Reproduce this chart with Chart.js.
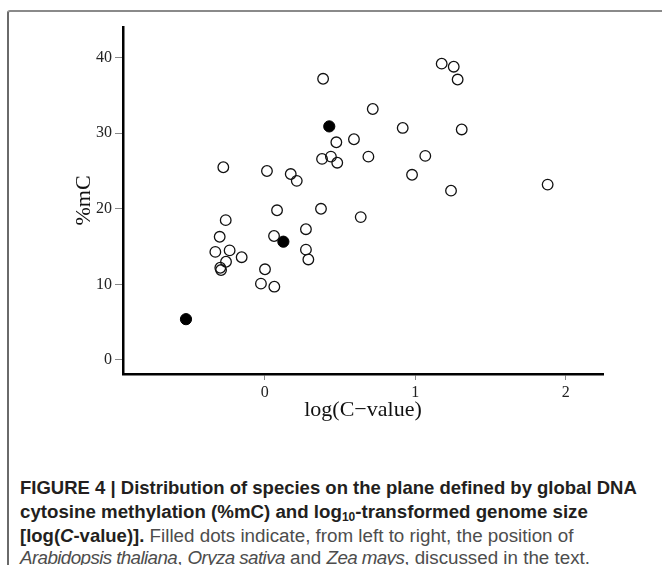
<!DOCTYPE html>
<html><head><meta charset="utf-8">
<script src="https://cdn.jsdelivr.net/npm/chart.js@4/dist/chart.umd.min.js"></script>
<style>
html,body{margin:0;padding:0;background:#fff;}
body{width:662px;height:565px;position:relative;overflow:hidden;}
#frame{position:absolute;left:7px;top:10px;width:700px;height:600px;border-top:2px solid #8a8a8a;border-left:2px solid #6a6a6a;border-top-left-radius:3px;}
#wrap{position:absolute;left:0;top:0;width:662px;height:460px;}
.cap{position:absolute;left:20px;font-family:"Liberation Sans",Arial,sans-serif;font-size:18.8px;line-height:24px;white-space:nowrap;color:#231f20;}
.cap b{font-weight:bold;font-size:18.5px;}
.cap b.l2{font-size:18.7px;}
.n{color:#4d4d4d;}
.n i{letter-spacing:-0.6px;}
sub{font-size:12px;vertical-align:-3px;line-height:0;}
</style></head><body>
<div id="frame"></div>
<div id="wrap"><canvas id="c" width="662" height="460"></canvas></div>
<div class="cap" style="top:476px"><b>FIGURE 4 | Distribution of species on the plane defined by global DNA</b></div>
<div class="cap" style="top:500px"><b class="l2">cytosine methylation (%mC) and log<sub>10</sub>-transformed genome size</b></div>
<div class="cap" style="top:524px"><b>[log(<i>C</i>-value)].</b><span class="n"> Filled dots indicate, from left to right, the position of</span></div>
<div class="cap n" style="top:546px"><i>Arabidopsis thaliana</i>, <i>Oryza sativa</i> and <i>Zea mays</i>, discussed in the text.</div>
<script>
// Open circles: other species
const openX = [0.388, 0.476, 0.593, 0.381, 0.440, 0.482, -0.275, 0.015, 0.173, 0.213,
  0.082, 0.374, -0.259, 1.176, 1.256, 1.282, 0.718, 0.917, 1.309, 0.689,
  1.067, 0.979, 1.238, 1.880, 0.638, -0.299, 0.062, 0.274, -0.328, -0.233,
  -0.153, -0.257, -0.295, -0.290, 0.274, 0.290, 0.002, -0.025, 0.064];
const openY = [37.2, 28.8, 29.2, 26.6, 26.9, 26.1, 25.5, 25.0, 24.6, 23.7,
  19.8, 20.0, 18.5, 39.2, 38.8, 37.1, 33.2, 30.7, 30.5, 26.9,
  27.0, 24.5, 22.4, 23.2, 18.9, 16.3, 16.4, 17.3, 14.3, 14.5,
  13.6, 13.0, 12.2, 11.9, 14.6, 13.3, 12.0, 10.1, 9.7];
// Filled dots: Arabidopsis thaliana, Oryza sativa, Zea mays
const filledX = [-0.523, 0.124, 0.429];
const filledY = [5.4, 15.65, 30.9];
const xTicks = [0, 1, 2];
const yTicks = [0, 10, 20, 30, 40];
const xTitle = 'log(C\u2212value)';
const yTitle = '%mC';

const toPts = (xs, ys) => xs.map((x, i) => ({x: x, y: ys[i]}));
const serif = "'Liberation Serif','Times New Roman',serif";

new Chart(document.getElementById('c'), {
  type: 'scatter',
  data: {
    datasets: [
      {data: toPts(openX, openY), pointRadius: 5.3, pointHoverRadius: 5.3, borderWidth: 1.3,
       borderColor: '#111', backgroundColor: 'rgba(0,0,0,0)'},
      {data: toPts(filledX, filledY), pointRadius: 5.6, pointHoverRadius: 5.6, borderWidth: 1,
       borderColor: '#000', backgroundColor: '#000'}
    ]
  },
  options: {
    responsive: false,
    devicePixelRatio: 1,
    animation: false,
    layout: {padding: {left: 0, right: 59, top: 27, bottom: 0}},
    plugins: {legend: {display: false}, tooltip: {enabled: false}},
    scales: {
      x: {
        type: 'linear', min: -0.9415, max: 2.2478,
        afterBuildTicks: s => { s.ticks = xTicks.map(v => ({value: v})); },
        afterFit: s => { s.height = 86; },
        grid: {display: true, drawOnChartArea: false, drawTicks: true, tickLength: 6, color: '#888', lineWidth: 1},
        border: {display: true, color: '#000', width: 2.5},
        ticks: {font: {family: serif, size: 16}, color: '#222', padding: 3, maxRotation: 0},
        title: {display: true, text: xTitle, font: {family: serif, size: 22}, color: '#111', padding: {top: 0, bottom: 36.8}}
      },
      y: {
        type: 'linear', min: -1.852, max: 44.05,
        afterBuildTicks: s => { s.ticks = yTicks.map(v => ({value: v})); },
        afterFit: s => { s.width = 123; },
        grid: {display: true, drawOnChartArea: false, drawTicks: true, tickLength: 8, color: '#888', lineWidth: 1},
        border: {display: true, color: '#000', width: 2.5},
        ticks: {font: {family: serif, size: 16}, color: '#222', padding: 3},
        title: {display: true, text: yTitle, font: {family: serif, size: 22}, color: '#111', padding: {top: 71, bottom: 0}}
      }
    }
  }
});
</script>
</body></html>
